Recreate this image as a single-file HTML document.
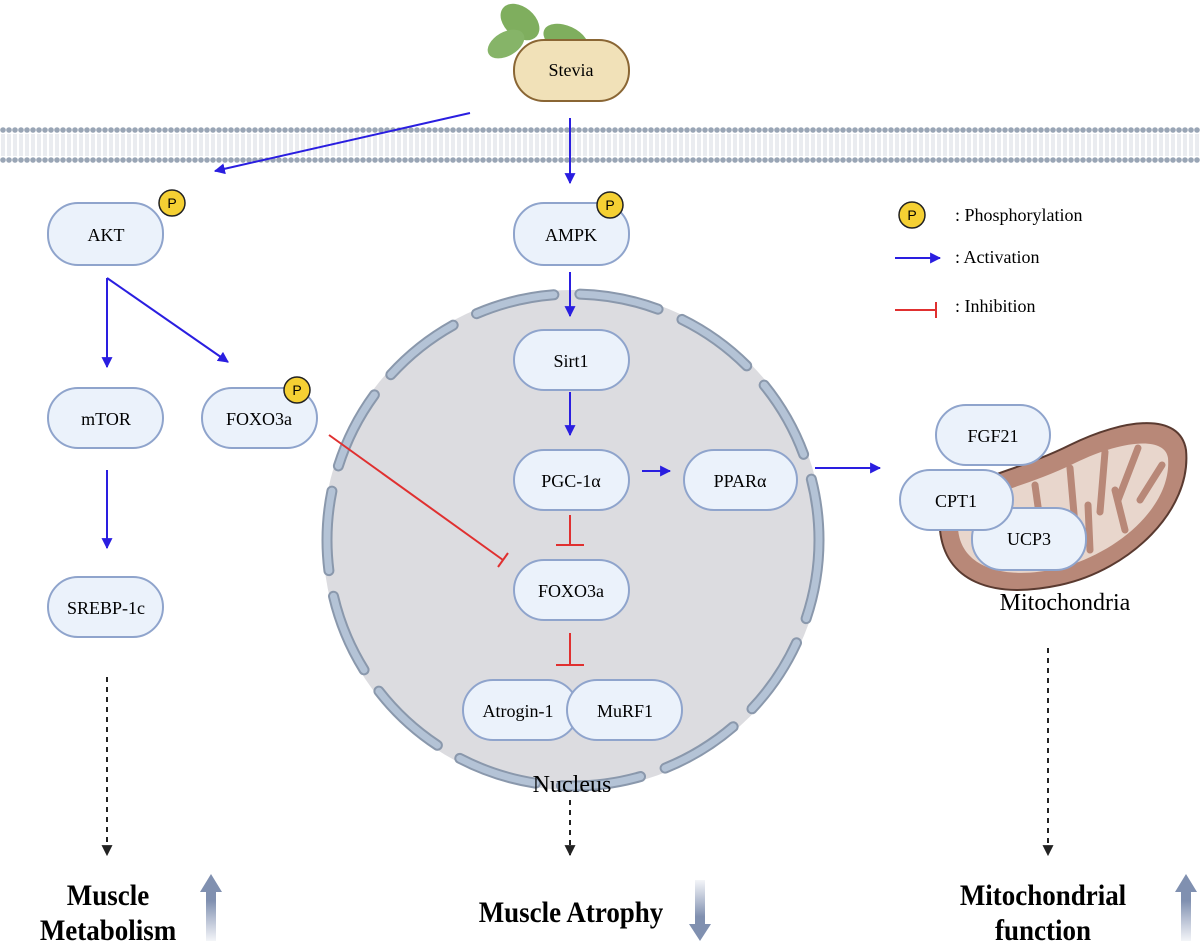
<!DOCTYPE html>
<html><head><meta charset="utf-8"><style>
html,body{margin:0;padding:0;background:#fff;width:1200px;height:941px;overflow:hidden}
text{font-family:"Liberation Serif",serif}
</style></head><body>
<svg width="1200" height="941" viewBox="0 0 1200 941" xmlns="http://www.w3.org/2000/svg">
<defs>
<marker id="ab" viewBox="0 0 10 10" refX="9" refY="5" markerWidth="5.5" markerHeight="5.5" orient="auto"><path d="M0,0L10,5L0,10z" fill="#2a1ee0"/></marker>
<marker id="ak" viewBox="0 0 10 10" refX="9" refY="5" markerWidth="5.5" markerHeight="5.5" orient="auto"><path d="M0,0L10,5L0,10z" fill="#222"/></marker>
<pattern id="mem" x="0" y="125" width="6" height="40" patternUnits="userSpaceOnUse">
<circle cx="3" cy="5" r="2.8" fill="#9aa6b6"/><circle cx="3" cy="35" r="2.8" fill="#9aa6b6"/>
<line x1="2" y1="9" x2="2" y2="31" stroke="#c9d0da" stroke-width="0.8"/><line x1="4" y1="9" x2="4" y2="31" stroke="#c9d0da" stroke-width="0.8"/>
</pattern>
<linearGradient id="gu" x1="0" y1="1" x2="0" y2="0"><stop offset="0" stop-color="#8a98b8" stop-opacity="0.1"/><stop offset="0.6" stop-color="#8090b0"/></linearGradient>
<linearGradient id="gd" x1="0" y1="0" x2="0" y2="1"><stop offset="0" stop-color="#8a98b8" stop-opacity="0.1"/><stop offset="0.6" stop-color="#8090b0"/></linearGradient>
</defs>

<rect x="0" y="125" width="1200" height="40" fill="url(#mem)"/>

<ellipse cx="520" cy="22" rx="22" ry="15" fill="#7fae5e" transform="rotate(40 520 22)"/>
<ellipse cx="506" cy="44" rx="20" ry="12" fill="#86b468" transform="rotate(-30 506 44)"/>
<ellipse cx="566" cy="40" rx="24" ry="14" fill="#7fae5e" transform="rotate(25 566 40)"/>
<rect x="514" y="40" width="115" height="61" rx="30" fill="#f1e1b8" stroke="#8a6634" stroke-width="2"/>
<text x="571" y="76" font-size="18" text-anchor="middle">Stevia</text>

<circle cx="573" cy="540" r="250" fill="#dcdce0"/>
<circle cx="573" cy="540" r="246" fill="none" stroke="#8a98ac" stroke-width="11" stroke-dasharray="80 26" stroke-linecap="round"/>
<circle cx="573" cy="540" r="246" fill="none" stroke="#b4c3d6" stroke-width="7" stroke-dasharray="80 26" stroke-linecap="round"/>
<text x="572" y="792" font-size="24" text-anchor="middle">Nucleus</text>

<path d="M940,530 C935,480 1000,480 1070,445 C1125,418 1180,412 1186,450 C1192,510 1130,570 1060,585 C990,600 945,580 940,530Z" fill="#b88878" stroke="#5a3a30" stroke-width="2"/>
<path d="M958,528 C958,495 1010,495 1075,463 C1122,440 1165,436 1168,458 C1172,505 1120,552 1060,568 C1000,582 960,565 958,528Z" fill="#e8d6cc"/>
<g stroke="#b88878" stroke-width="7" stroke-linecap="round">
<line x1="1000" y1="500" x2="1000" y2="545"/><line x1="1035" y1="485" x2="1042" y2="535"/><line x1="1070" y1="468" x2="1075" y2="525"/><line x1="1105" y1="452" x2="1100" y2="512"/><line x1="1138" y1="448" x2="1118" y2="500"/><line x1="1162" y1="465" x2="1140" y2="500"/>
<line x1="1015" y1="565" x2="1025" y2="520"/><line x1="1050" y1="560" x2="1058" y2="515"/><line x1="1090" y1="550" x2="1088" y2="505"/><line x1="1125" y1="530" x2="1115" y2="490"/>
</g>
<text x="1065" y="610" font-size="24" text-anchor="middle">Mitochondria</text>

<g fill="#ebf2fb" stroke="#8fa4cc" stroke-width="2">
<rect x="48" y="203" width="115" height="62" rx="30"/>
<rect x="514" y="203" width="115" height="62" rx="30"/>
<rect x="48" y="388" width="115" height="60" rx="30"/>
<rect x="202" y="388" width="115" height="60" rx="30"/>
<rect x="48" y="577" width="115" height="60" rx="30"/>
<rect x="514" y="330" width="115" height="60" rx="30"/>
<rect x="514" y="450" width="115" height="60" rx="30"/>
<rect x="684" y="450" width="113" height="60" rx="30"/>
<rect x="514" y="560" width="115" height="60" rx="30"/>
<rect x="463" y="680" width="115" height="60" rx="30"/>
<rect x="567" y="680" width="115" height="60" rx="30"/>
<rect x="936" y="405" width="114" height="60" rx="30"/>
<rect x="972" y="508" width="114" height="62" rx="30"/>
<rect x="900" y="470" width="113" height="60" rx="30"/>
</g>
<g font-size="18" text-anchor="middle">
<text x="106" y="241">AKT</text>
<text x="571" y="241">AMPK</text>
<text x="106" y="425">mTOR</text>
<text x="259" y="425">FOXO3a</text>
<text x="106" y="614">SREBP-1c</text>
<text x="571" y="367">Sirt1</text>
<text x="571" y="487">PGC-1α</text>
<text x="740" y="487">PPARα</text>
<text x="571" y="597">FOXO3a</text>
<text x="518" y="717">Atrogin-1</text>
<text x="625" y="717">MuRF1</text>
<text x="993" y="442">FGF21</text>
<text x="1029" y="545">UCP3</text>
<text x="956" y="507">CPT1</text>
</g>

<g fill="#f5d033" stroke="#222" stroke-width="1.5">
<circle cx="172" cy="203" r="13"/><circle cx="610" cy="205" r="13"/><circle cx="297" cy="390" r="13"/><circle cx="912" cy="215" r="13"/>
</g>
<g font-size="14" text-anchor="middle">
<text x="172" y="208" style="font-family:'Liberation Sans',sans-serif">P</text><text x="610" y="210" style="font-family:'Liberation Sans',sans-serif">P</text><text x="297" y="395" style="font-family:'Liberation Sans',sans-serif">P</text><text x="912" y="220" style="font-family:'Liberation Sans',sans-serif">P</text>
</g>

<text x="955" y="221" font-size="18">: Phosphorylation</text>
<line x1="895" y1="258" x2="940" y2="258" stroke="#2a1ee0" stroke-width="2" marker-end="url(#ab)"/>
<text x="955" y="263" font-size="18">: Activation</text>
<line x1="895" y1="310" x2="935" y2="310" stroke="#e03030" stroke-width="2"/><line x1="936" y1="302" x2="936" y2="318" stroke="#e03030" stroke-width="2"/>
<text x="955" y="312" font-size="18">: Inhibition</text>

<g stroke="#2a1ee0" stroke-width="2" fill="none" marker-end="url(#ab)">
<line x1="470" y1="113" x2="215" y2="171"/>
<line x1="570" y1="118" x2="570" y2="183"/>
<line x1="107" y1="278" x2="107" y2="367"/>
<line x1="107" y1="278" x2="228" y2="362"/>
<line x1="107" y1="470" x2="107" y2="548"/>
<line x1="570" y1="272" x2="570" y2="316"/>
<line x1="570" y1="392" x2="570" y2="435"/>
<line x1="642" y1="471" x2="670" y2="471"/>
<line x1="815" y1="468" x2="880" y2="468"/>
</g>
<g stroke="#e03030" stroke-width="2">
<line x1="570" y1="515" x2="570" y2="545"/><line x1="556" y1="545" x2="584" y2="545"/>
<line x1="570" y1="633" x2="570" y2="665"/><line x1="556" y1="665" x2="584" y2="665"/>
<line x1="329" y1="435" x2="503" y2="560"/><line x1="498" y1="567" x2="508" y2="553"/>
</g>
<g stroke="#222" stroke-width="2" stroke-dasharray="5 5" marker-end="url(#ak)">
<line x1="107" y1="677" x2="107" y2="855"/>
<line x1="570" y1="800" x2="570" y2="855"/>
<line x1="1048" y1="648" x2="1048" y2="855"/>
</g>

<g font-size="30" font-weight="bold" text-anchor="middle">
<text transform="translate(108 905) scale(0.9 1)">Muscle</text>
<text transform="translate(108 940) scale(0.9 1)">Metabolism</text>
<text transform="translate(571 922) scale(0.9 1)">Muscle Atrophy</text>
<text transform="translate(1043 905) scale(0.9 1)">Mitochondrial</text>
<text transform="translate(1043 940) scale(0.9 1)">function</text>
</g>
<path d="M206,941 V892 H200 L211,874 L222,892 H216 V941Z" fill="url(#gu)"/>
<path d="M1181,941 V892 H1175 L1186,874 L1197,892 H1191 V941Z" fill="url(#gu)"/>
<path d="M695,880 V924 H689 L700,941 L711,924 H705 V880Z" fill="url(#gd)"/>
</svg>
</body></html>
